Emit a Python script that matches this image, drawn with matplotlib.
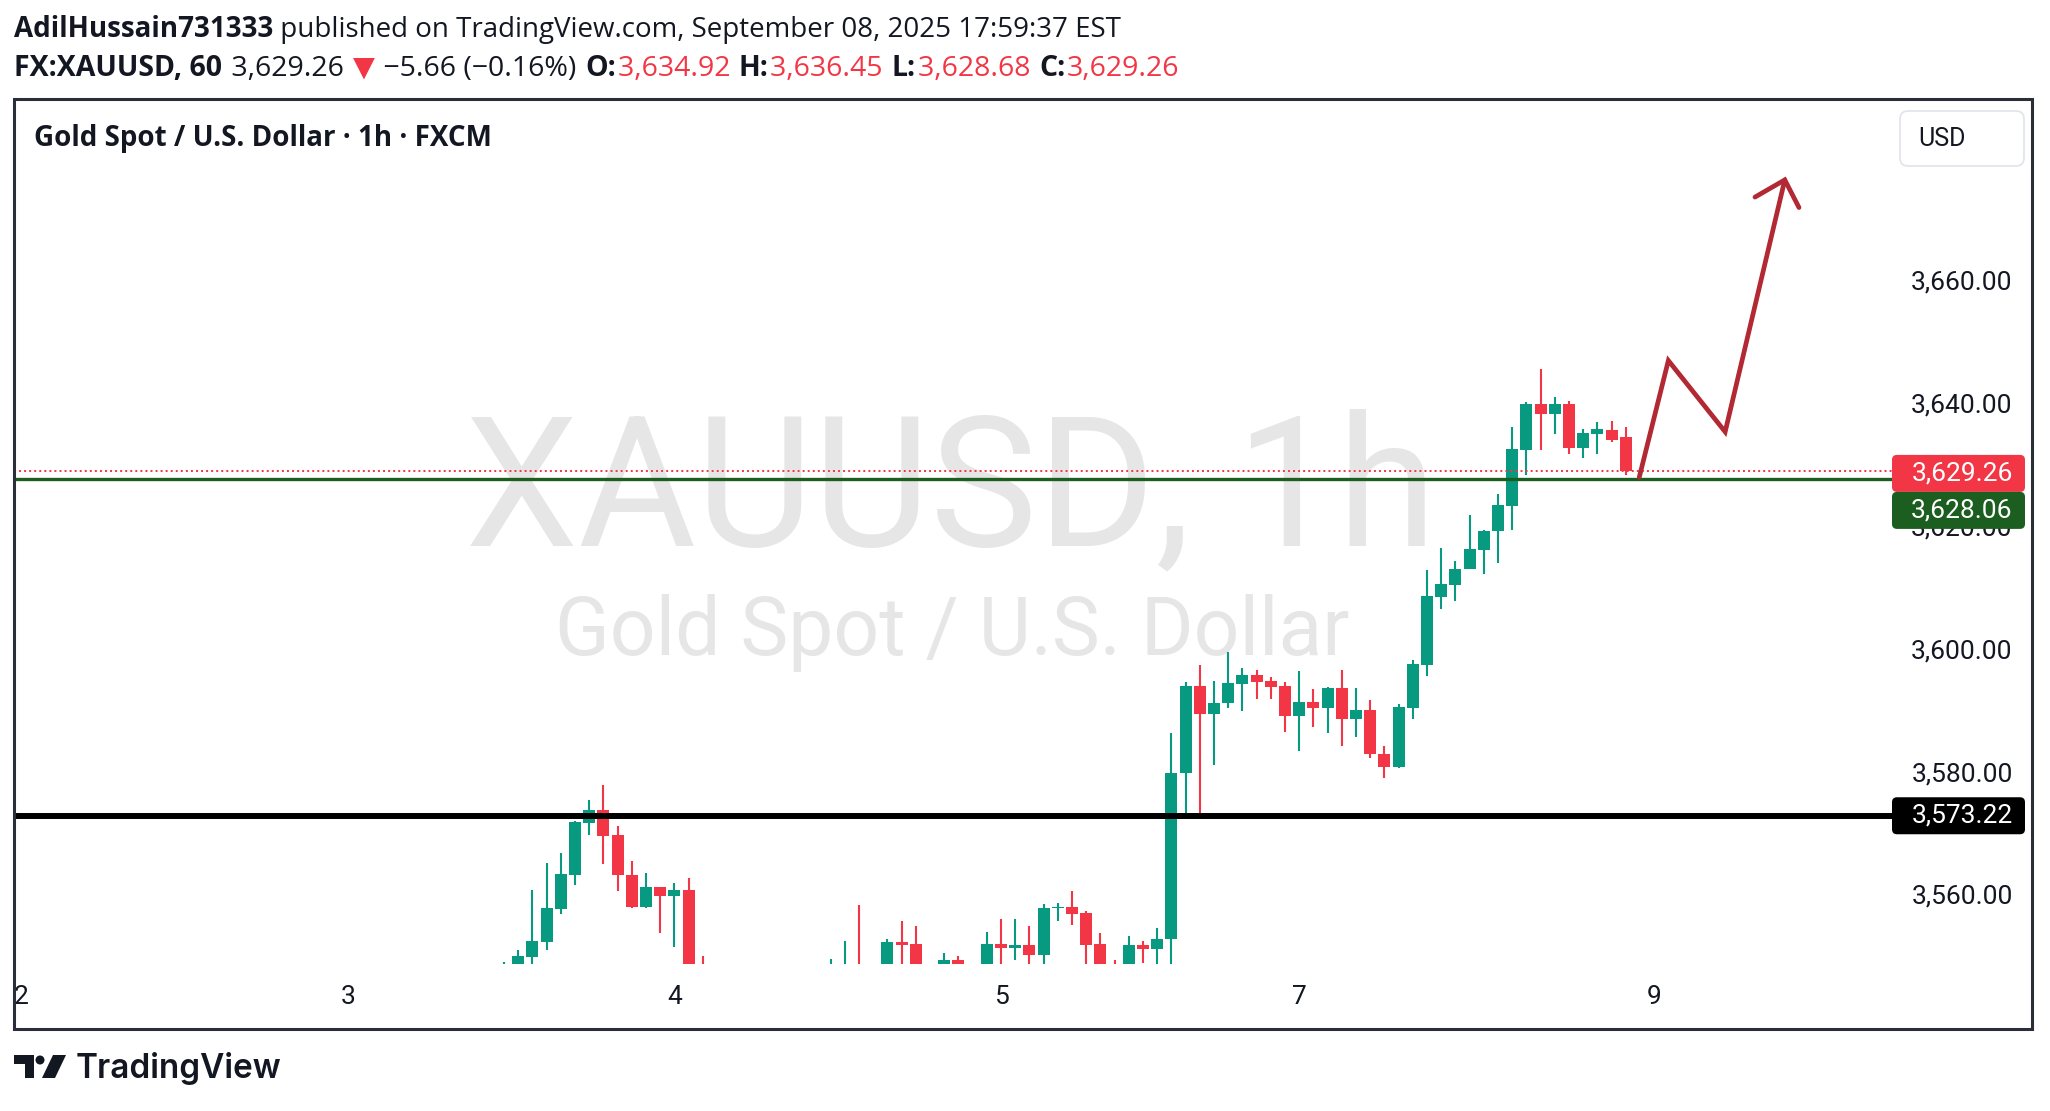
import matplotlib
matplotlib.use('Agg')
import matplotlib.pyplot as plt
import matplotlib.transforms as mtransforms
from matplotlib.patches import Rectangle, FancyBboxPatch, Polygon, Circle

W, H, DPI = 2050, 1111, 100

# hourly candles, index 0 = first bar visible above the bottom of the chart
# None = bar entirely below the visible price range
opens = [3546.0, 3548.0, 3550.3, 3552.7, 3558.1, 3563.6, 3572.1, 3574.2, 3570.1, 3563.6,
         3558.3, 3561.6, 3560.1, 3561.1, 3547.5, None, None, None, None, None,
         None, None, None, 3546.0, 3546.5, 3548.0, None, 3547.5, 3552.7, 3552.4,
         None, 3547.5, 3549.8, None, 3547.5, 3552.4, 3551.7, 3552.2, 3550.6, 3558.2,
         3558.3, 3557.4, 3552.4, 3547.5, 3547.0, 3552.2, 3551.5, 3553.1, 3580.1, 3594.3,
         3589.8, 3591.5, 3594.7, 3596.1, 3595.2, 3594.3, 3589.5, 3591.7, 3590.8, 3594.0,
         3589.0, 3590.4, 3583.3, 3581.2, 3590.8, 3597.8, 3608.9, 3610.8, 3613.3, 3616.5,
         3619.5, 3623.7, 3632.8, 3640.2, 3638.6, 3640.2, 3633.0, 3635.4, 3636.0, 3634.92]
highs = [3549.5, 3551.4, 3561.1, 3565.5, 3567.2, 3572.4, 3575.8, 3578.2, 3571.6, 3565.9,
         3563.9, 3561.7, 3562.3, 3563.1, 3550.4, None, None, None, None, None,
         None, None, None, 3549.9, 3552.8, 3558.7, None, 3553.2, 3556.1, 3555.3,
         None, 3550.9, 3550.4, None, 3554.3, 3556.4, 3556.4, 3555.3, 3558.9, 3559.0,
         3561.0, 3557.7, 3554.1, 3549.8, 3553.7, 3552.8, 3555.0, 3586.7, 3595.0, 3597.8,
         3595.2, 3599.9, 3597.3, 3596.9, 3595.8, 3595.0, 3596.8, 3593.8, 3594.2, 3596.9,
         3594.0, 3592.1, 3584.6, 3591.4, 3598.6, 3613.2, 3616.8, 3614.7, 3622.2, 3619.7,
         3625.6, 3636.5, 3640.5, 3645.9, 3641.4, 3640.7, 3636.2, 3637.3, 3637.5, 3636.45]
lows = [3543.0, 3546.5, 3548.5, 3551.4, 3557.3, 3562.0, 3570.1, 3565.4, 3561.0, 3558.2,
        3558.2, 3554.2, 3551.8, 3545.0, 3543.0, None, None, None, None, None,
        None, None, None, 3544.0, 3545.0, 3544.0, None, 3546.0, 3547.5, 3546.0,
        None, 3546.0, 3546.0, None, 3546.0, 3548.0, 3549.8, 3548.0, 3548.5, 3556.1,
        3555.4, 3547.5, 3546.0, 3545.0, 3545.5, 3549.3, 3548.0, 3548.5, 3572.9, 3573.2,
        3581.5, 3590.8, 3590.2, 3592.3, 3592.3, 3586.9, 3583.7, 3587.6, 3586.7, 3584.6,
        3586.1, 3582.7, 3579.4, 3581.0, 3589.0, 3596.0, 3606.9, 3608.2, 3613.3, 3612.5,
        3614.4, 3619.8, 3628.6, 3632.8, 3635.4, 3632.1, 3631.5, 3632.1, 3634.1, 3628.68]
closes = [3548.0, 3550.4, 3552.8, 3558.2, 3563.7, 3572.2, 3574.2, 3570.0, 3563.5, 3558.3,
          3561.6, 3560.1, 3561.1, 3547.0, 3546.0, None, None, None, None, None,
          None, None, None, 3547.5, 3548.0, 3546.0, None, 3552.7, 3552.2, 3547.5,
          None, 3549.8, 3547.5, None, 3552.4, 3551.7, 3552.2, 3550.6, 3558.2, 3558.4,
          3557.2, 3552.2, 3547.5, 3546.5, 3552.2, 3551.5, 3553.2, 3580.2, 3594.3, 3589.8,
          3591.6, 3594.8, 3596.1, 3595.0, 3594.2, 3589.5, 3591.7, 3590.8, 3594.0, 3589.0,
          3590.4, 3583.2, 3581.2, 3590.9, 3597.9, 3609.0, 3610.9, 3613.4, 3616.6, 3619.6,
          3623.8, 3632.9, 3640.2, 3638.6, 3640.2, 3633.0, 3635.5, 3636.2, 3634.4, 3629.26]

day_ticks = [-34, -11, 12, 35, 56, 81]
day_labels = ['2', '3', '4', '5', '7', '9']
price_ticks = [3560, 3580, 3600, 3620, 3640, 3660]

last_price = 3629.26
green_level = 3628.06
black_level = 3573.22

# drawn projection (bar index, price)
path_x = [79.95, 82.0, 86.0, 90.2]
path_y = [3628.3, 3647.3, 3635.7, 3676.7]
head_x = [88.1, 90.2, 91.2]
head_y = [3673.9, 3676.7, 3672.2]

UP, DOWN = '#089981', '#f23645'
DARK = '#131722'
LINE_GREEN = '#1b5e20'
ARROW = '#b22833'

fig = plt.figure(figsize=(W / DPI, H / DPI), dpi=DPI)
fig.patch.set_facecolor('white')

# background overlay (pixel coords, y from top) for the watermark
bg = fig.add_axes([0, 0, 1, 1], zorder=0)
bg.set_xlim(0, W)
bg.set_ylim(H, 0)
bg.axis('off')
bg.text(951, 546, 'XAUUSD, 1h', fontsize=130, family='Roboto', color='#e6e6e6',
        ha='center', va='baseline')
bg.text(952, 655, 'Gold Spot / U.S. Dollar', fontsize=58, family='Roboto', color='#e6e6e6',
        ha='center', va='baseline')

# main price pane
left, right, top, bottom = 14.4, 1892, 99.4, 963.6
ax = fig.add_axes([left / W, 1 - bottom / H, (right - left) / W, (bottom - top) / H], zorder=1)
ax.patch.set_alpha(0)
ax.axis('off')
ax.set_xlim(-34.48, 97.75)
ax.set_ylim(3549.16, 3689.8)

for i, (o, h, l, c) in enumerate(zip(opens, highs, lows, closes)):
    if o is None:
        continue
    col = UP if c >= o else DOWN
    ax.vlines(i, l, h, color=col, lw=1.5, zorder=2)
    body = max(abs(c - o), 0.17)
    ax.bar(i, body, bottom=min(o, c), width=0.845, color=col, zorder=3)

ax.axhline(black_level, color='black', lw=4.3, zorder=4)
ax.axhline(green_level, color=LINE_GREEN, lw=2.4, zorder=4)
ax.axhline(last_price, color=DOWN, lw=1.4, linestyle=(0, (1, 1.6)), zorder=5)

ax.plot(path_x, path_y, color=ARROW, lw=3.4, solid_capstyle='round',
        solid_joinstyle='miter', zorder=6)
ax.plot(head_x, head_y, color=ARROW, lw=3.4, solid_capstyle='round',
        solid_joinstyle='miter', zorder=6)

# day labels on the time axis
tx = mtransforms.blended_transform_factory(ax.transData, ax.transAxes)
for t, lab in zip(day_ticks, day_labels):
    ax.text(t, -(997 - bottom) / (bottom - top), lab, transform=tx, ha='center', va='center',
            fontsize=19, family='Roboto', color=DARK, clip_on=False)

# front overlay for price scale, frame, header
ov = fig.add_axes([0, 0, 1, 1], zorder=2)
ov.set_xlim(0, W)
ov.set_ylim(H, 0)
ov.axis('off')


def ypix(p):
    return H - ax.transData.transform((0, p))[1]


for p in price_ticks:
    ov.text(1962, ypix(p), f'{p:,.2f}', fontsize=19, family='Roboto', color=DARK,
            ha='center', va='center', zorder=1)

box_h = 37


def price_box(yc, text, face):
    ov.add_patch(FancyBboxPatch((1892, yc - box_h / 2), 133, box_h,
                                boxstyle='round,pad=0,rounding_size=5',
                                fc=face, ec='none', zorder=3))
    ov.text(1962, yc, text, fontsize=19, family='Roboto', color='white',
            ha='center', va='center', zorder=4)


y_last = ypix(last_price) + 2
price_box(y_last, f'{last_price:,.2f}', DOWN)
price_box(y_last + box_h, f'{green_level:,.2f}', LINE_GREEN)
price_box(ypix(black_level), f'{black_level:,.2f}', 'black')

# currency button
ov.add_patch(FancyBboxPatch((1900, 111), 124, 55, boxstyle='round,pad=0,rounding_size=8',
                            fc='white', ec='#e0e3eb', lw=1.2, zorder=3))
ov.text(1918, 139, 'USD', fontsize=18, family='Roboto', color=DARK, ha='left', va='center',
        zorder=4)

# frame
ov.add_patch(Rectangle((left, top), 2032 - left, 1029 - top, fill=False, ec='#2a2e39',
                       lw=2.2, zorder=5))

# pane title
ov.text(34, 146, 'Gold Spot / U.S. Dollar · 1h · FXCM', fontsize=20, family='Open Sans',
        weight='bold', color=DARK, ha='left', va='baseline')

# header lines
renderer = fig.canvas.get_renderer()


def runs(x, y, parts, size, gap=0):
    for txt, wt, col in parts:
        t = ov.text(x, y, txt, fontsize=size, family=['Open Sans', 'DejaVu Sans'], weight=wt,
                    color=col, ha='left', va='baseline')
        x += t.get_window_extent(renderer).width + gap


runs(14, 37, [('AdilHussain731333', 'bold', DARK),
              (' published on TradingView.com, September 08, 2025 17:59:37 EST', 'normal', DARK)],
     20)
runs(14, 76, [('FX:XAUUSD, 60', 'bold', DARK), (' 3,629.26 ', 'normal', DARK),
              ('▼', 'normal', DOWN), (' −5.66 (−0.16%) ', 'normal', DARK),
              ('O:', 'bold', DARK), ('3,634.92 ', 'normal', DOWN),
              ('H:', 'bold', DARK), ('3,636.45 ', 'normal', DOWN),
              ('L:', 'bold', DARK), ('3,628.68 ', 'normal', DOWN),
              ('C:', 'bold', DARK), ('3,629.26', 'normal', DOWN)], 20.5, gap=1.6)

# TradingView logo
ov.add_patch(Polygon([(14, 1055), (34, 1055), (34, 1078), (24.5, 1078), (24.5, 1064), (14, 1064)],
                     closed=True, fc=DARK, ec='none'))
ov.add_artist(Circle((40, 1060), 4.5, fc=DARK, ec='none'))
ov.add_patch(Polygon([(53, 1055), (66, 1055), (55, 1078), (42, 1078)], closed=True,
                     fc=DARK, ec='none'))
ov.text(76, 1078, 'TradingView', fontsize=24, family='Inter', weight='semibold', color=DARK,
        ha='left', va='baseline')

fig.savefig('out.png', dpi=DPI, facecolor='white')
